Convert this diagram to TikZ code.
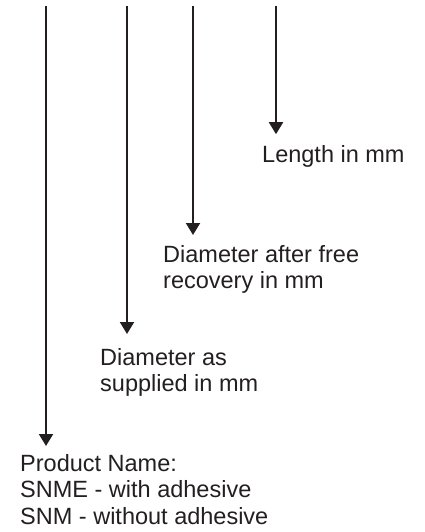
\documentclass[tikz,border=0pt]{standalone}
\usepackage{fontspec}
\setmainfont{Liberation Sans}
\usetikzlibrary{arrows.meta}
\definecolor{ink}{HTML}{231F20}
\begin{document}
\begin{tikzpicture}[x=1pt,y=-1pt,
  lbl/.style={anchor=north west, inner sep=0pt, align=left,
    font=\fontsize{23.5}{26.6}\selectfont, text=ink},
  arr/.style={line width=2pt, draw=ink, -{Triangle[width=14pt,length=12pt]}}]
\path[use as bounding box] (0,0) rectangle (425,532);
\coordinate (t1) at (46,6);
\coordinate (t2) at (127,6);
\coordinate (t3) at (193,6);
\coordinate (t4) at (276,6);
\node[lbl] (len) at (262,145.2) {Length in mm};
\node[lbl] (dfr) at (163,245) {Diameter after free\\recovery in mm};
\node[lbl] (dsu) at (100,348) {Diameter as\\supplied in mm};
\node[lbl] (prn) at (20,454) {Product Name:\\SNME - with adhesive\\SNM - without adhesive};
\draw[arr, shorten >=11pt] (t4) -- (t4 |- len.north);
\draw[arr, shorten >=10pt] (t3) -- (t3 |- dfr.north);
\draw[arr, shorten >=14pt] (t2) -- (t2 |- dsu.north);
\draw[arr, shorten >=8pt] (t1) -- (t1 |- prn.north);
\end{tikzpicture}
\end{document}
